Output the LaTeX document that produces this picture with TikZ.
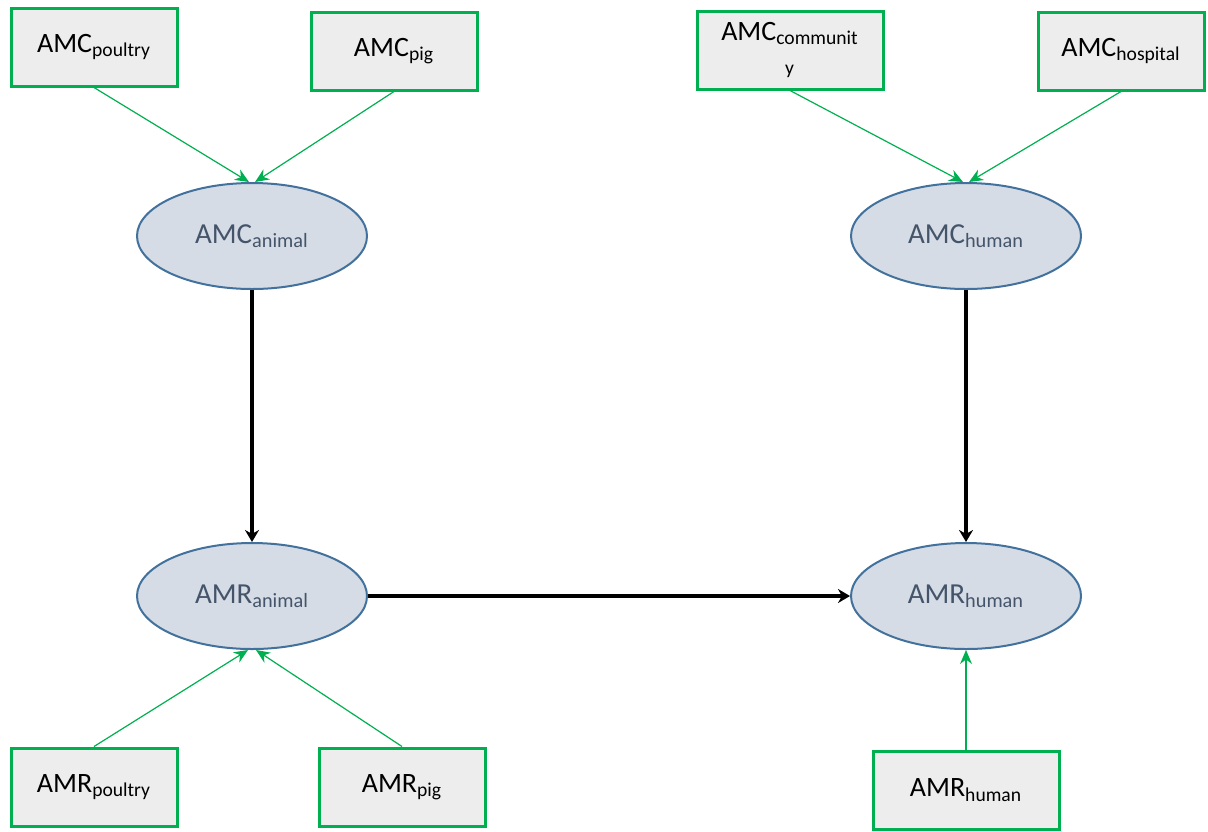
\documentclass[tikz,border=0pt]{standalone}
\usepackage{fontspec}
\setmainfont{Carlito}
\usetikzlibrary{arrows.meta,shapes.geometric}
\definecolor{boxgreen}{HTML}{00B050}
\definecolor{boxgray}{HTML}{EDEDED}
\definecolor{ellfill}{HTML}{D6DCE5}
\definecolor{elldraw}{HTML}{41719C}
\definecolor{elltext}{HTML}{44546A}
\newcommand{\qty}[2]{#1\textsubscript{#2}}
\begin{document}
\begin{tikzpicture}[x=.5pt,y=-.5pt,font=\fontsize{14}{16}\selectfont,
  srcbox/.style={draw=boxgreen,fill=boxgray,line width=1.5pt,minimum width=83pt,minimum height=39pt,inner sep=0pt},
  widebox/.style={srcbox,minimum width=93pt},
  var/.style={ellipse,draw=elldraw,fill=ellfill,line width=1pt,text=elltext,font=\fontsize{14.5}{16}\selectfont,minimum width=115pt,minimum height=53pt,inner sep=0pt},
  feed/.style={draw=boxgreen,line width=.6pt,-{Stealth[length=7pt,width=6pt]}},
  link/.style={line width=2pt,-{Stealth[length=6pt,width=7pt]}}]
  \useasboundingbox (0,0) rectangle (1208,831);
  % consumption and resistance
  \node[var] (amcanimal) at (252,236) {\qty{AMC}{animal}};
  \node[var] (amchuman) at (966,236) {\qty{AMC}{human}};
  \node[var] (amranimal) at (252,596) {\qty{AMR}{animal}};
  \node[var] (amrhuman) at (966,596) {\qty{AMR}{human}};
  % data sources
  \node[srcbox] (amcpoultry) at (94,47) {\qty{AMC}{poultry}};
  \node[srcbox] (amcpig) at (394,51) {\qty{AMC}{pig}};
  \node[widebox,align=center] (amccommunity) at (790,50) {\qty{AMC}{communit}\\[-1pt]\textsubscript{y}};
  \node[srcbox] (amchospital) at (1121,51) {\qty{AMC}{hospital}};
  \node[srcbox] (amrpoultry) at (94,787) {\qty{AMR}{poultry}};
  \node[srcbox] (amrpig) at (402,787) {\qty{AMR}{pig}};
  \node[widebox] (amrhumanbox) at (966,790) {\qty{AMR}{human}};
  \draw[feed] (amcpoultry.south) -- ([xshift=-1.5pt]amcanimal.north);
  \draw[feed] (amcpig.south) -- ([xshift=1.5pt]amcanimal.north);
  \draw[feed] (amccommunity.south) -- ([xshift=-1.5pt]amchuman.north);
  \draw[feed] (amchospital.south) -- ([xshift=1.5pt]amchuman.north);
  \draw[feed] (amrpoultry.north) -- ([xshift=-2pt]amranimal.south);
  \draw[feed] (amrpig.north) -- ([xshift=2pt]amranimal.south);
  \draw[feed] (amrhumanbox.north) -- (amrhuman.south);
  \draw[link] (amcanimal.south) -- (amranimal.north);
  \draw[link] (amchuman.south) -- (amrhuman.north);
  \draw[link] (amranimal.east) -- (amrhuman.west);
\end{tikzpicture}
\end{document}
